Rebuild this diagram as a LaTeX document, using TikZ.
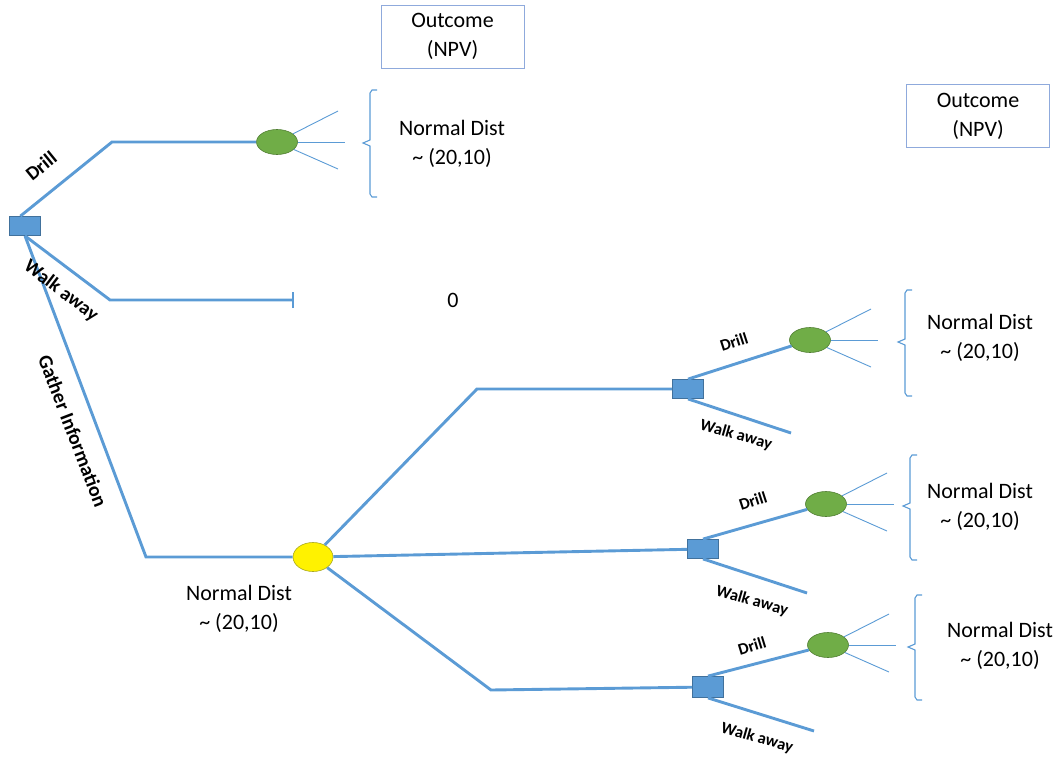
\documentclass[tikz,border=0pt]{standalone}
\usepackage{fontspec}
\setmainfont{Carlito}
\usepackage{tikz}
\usetikzlibrary{shapes.geometric}
\definecolor{treeblue}{HTML}{5B9BD5}
\definecolor{darkblue}{HTML}{41719C}
\definecolor{leafgreen}{HTML}{70AD47}
\definecolor{darkgreen}{HTML}{507E32}
\definecolor{boxblue}{HTML}{8FAADC}
\definecolor{yellowedge}{HTML}{A8A820}

\tikzset{
  branch/.style={treeblue, line width=2.9pt},
  fan/.style={treeblue, line width=0.9pt},
  decision/.style={rectangle, fill=treeblue, draw=darkblue, line width=0.8pt,
    minimum width=31pt, minimum height=19pt, inner sep=0pt},
  chance/.style={ellipse, fill=leafgreen, draw=darkgreen, line width=0.6pt,
    minimum width=41pt, minimum height=25pt, inner sep=0pt},
  outbox/.style={rectangle, draw=boxblue, line width=1pt, minimum width=143pt,
    minimum height=63pt, align=center, font=\fontsize{22}{29}\selectfont},
  dist/.style={align=center, font=\fontsize{22}{29}\selectfont},
  lab/.style={font=\fontsize{19.5}{22}\selectfont\bfseries},
  sublab/.style={font=\fontsize{16.5}{20}\selectfont\bfseries},
}

\begin{document}
\begin{tikzpicture}[x=1pt, y=-1pt]
  \useasboundingbox (0,0) rectangle (1057,763);

  % outcome headers
  \node[outbox] (o1) at (452.5,36.5) {Outcome\\(NPV)};
  \node[outbox] (o2) at (978,116) {Outcome\\(NPV)};

  % first decision and its branches
  \node[decision] (d0) at (25,226) {};
  \node[chance] (c1) at (277,142) {};
  \node[chance, fill=yellow, draw=yellowedge, minimum width=40pt,
    minimum height=29pt] (c0) at (313,557) {};
  \coordinate (b1) at (112,142);
  \coordinate (b2) at (110,300);
  \coordinate (w0) at (293,300);
  \coordinate (b3) at (146,557);
  \draw[branch] (d0.115) -- (b1) -- (c1);
  \draw[branch] (d0.south) -- (b2) -- (w0);
  \draw[treeblue, line width=1.4pt] ([yshift=-8pt]w0) -- ([yshift=8pt]w0);
  \draw[branch] (d0.south) -- (b3) -- (c0);

  \node[lab, rotate=39] (l1) at (41,166) {Drill};
  \node[lab, rotate=-37] (l2) at (61,291) {Walk away};
  \node[lab, rotate=-69, font=\fontsize{20}{22}\selectfont\bfseries] (l3)
    at (73,431) {Gather Information};
  \node[dist] (z0) at (453,300) {0};

  % second stage after gathering information
  \node[decision] (s1) at (688,389) {};
  \node[decision] (s2) at (703,549) {};
  \node[decision, minimum height=21pt] (s3) at (708,687) {};
  \node[chance] (c2) at (810,340) {};
  \node[chance] (c3) at (826,504) {};
  \node[chance] (c4) at (828,645) {};
  \coordinate (b4) at (477,389);
  \coordinate (b5) at (491,690);
  \coordinate (w1) at (791,433);
  \coordinate (w2) at (807,593);
  \coordinate (w3) at (814,731);
  \draw[branch] (c0) -- (b4) -- (s1);
  \draw[branch] (c0) -- (s2);
  \draw[branch] (c0) -- (b5) -- (s3);
  \draw[branch] (s1.north) -- (c2);
  \draw[branch] (s1.south) -- (w1);
  \draw[branch] (s2.north) -- (c3);
  \draw[branch] (s2.south) -- (w2);
  \draw[branch] (s3.north) -- (c4);
  \draw[branch] (s3.south) -- (w3);

  \node[sublab, rotate=18] (l4) at (734,342) {Drill};
  \node[sublab, rotate=-16] (l5) at (736,435) {Walk away};
  \node[sublab, rotate=18] (l6) at (753,501) {Drill};
  \node[sublab, rotate=-16] (l7) at (752,601) {Walk away};
  \node[sublab, rotate=17] (l8) at (752,646) {Drill};
  \node[sublab, rotate=-16] (l9) at (757,738) {Walk away};

  % fans out of the chance nodes
  \foreach \c in {c1,c2,c3,c4}{
    \draw[fan] (\c.27) -- ([shift={(61,-31)}]\c.center);
    \draw[fan] (\c.east) -- ([shift={(68,0)}]\c.center);
    \draw[fan] (\c.-24) -- ([shift={(61,27)}]\c.center);
  }

  % braces and distributions
  \foreach \bx/\bt/\bm/\bb in {370/90/143/197, 905/290/342/396,
                               910/455/506/560, 915/595/647/700}{
    \draw[fan, line width=1.1pt] (\bx+7,\bt) -- (\bx+2,\bt) -- (\bx,\bt+3)
      -- (\bx,\bm-3) -- (\bx-7,\bm) -- (\bx,\bm+3) -- (\bx,\bb-3)
      -- (\bx+2,\bb) -- (\bx+7,\bb);
  }
  \node[dist] (n0) at (452,144) {Normal Dist\\\textasciitilde\ (20,10)};
  \node[dist] (n1) at (239,609) {Normal Dist\\\textasciitilde\ (20,10)};
  \node[dist] (n2) at (980,338) {Normal Dist\\\textasciitilde\ (20,10)};
  \node[dist] (n3) at (980,507) {Normal Dist\\\textasciitilde\ (20,10)};
  \node[dist] (n4) at (1000,646) {Normal Dist\\\textasciitilde\ (20,10)};
\end{tikzpicture}
\end{document}
